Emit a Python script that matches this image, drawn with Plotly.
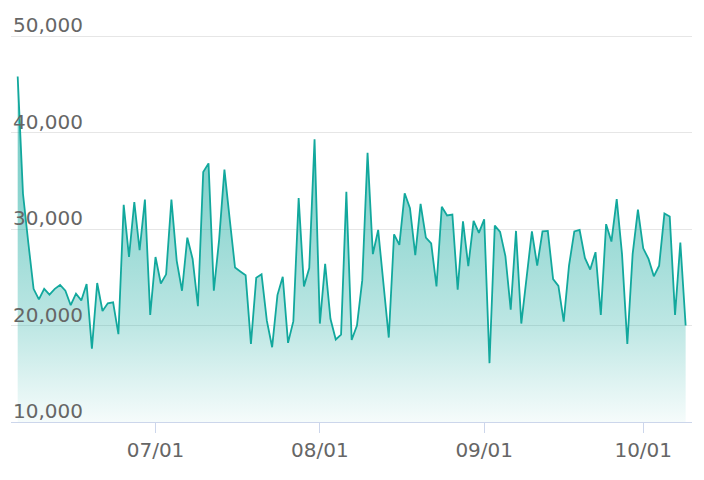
import pandas as pd
import plotly.graph_objects as go

start_date = "2023-06-05"
values = [
    45800, 33650, 28600, 23800, 22700, 23800, 23200, 23800, 24200, 23600,
    22100, 23300, 22600, 24300, 17600, 24400, 21500, 22300, 22400, 19100,
    32500, 27100, 32800, 27800, 33050, 21100, 27100, 24350, 25300, 33050,
    26700, 23600, 29100, 26900, 22000, 35900, 36800, 23600, 28900, 36150,
    31000, 26000, 25600, 25200, 18100, 24950, 25300, 20500, 17750, 23150,
    25050, 18200, 20450, 33200, 24050, 25950, 39300, 20200, 26400, 20700,
    18550, 19050, 33850, 18500, 20000, 24700, 37900, 27400, 29900, 24200,
    18750, 29450, 28350, 33700, 32150, 27300, 32600, 29100, 28500, 24050,
    32300, 31400, 31500, 23700, 30800, 26150, 30850, 29600, 31000, 16100,
    30350, 29700, 27200, 21650, 29800, 20200, 25100, 29750, 26200, 29750,
    29800, 24800, 24100, 20400, 26200, 29750, 29900, 27000, 25800, 27600,
    21100, 30500, 28700, 33100, 27400, 18100, 27400, 32000, 28000, 26900,
    25100, 26200, 31600, 31300, 21100, 28600, 20000,
]
dates = pd.date_range(start_date, periods=len(values), freq="D")
y_tickvals = [10000, 20000, 30000, 40000, 50000]
y_ticktext = [f"{v:,}" for v in y_tickvals]
x_tick0 = "2023-07-01"

line_color = "#12a89d"

fig = go.Figure()
fig.add_trace(go.Scatter(
    x=dates, y=values, mode="lines",
    line=dict(color=line_color, width=1.8),
    fill="tozeroy",
    fillgradient=dict(
        type="vertical",
        start=10000, stop=46000,
        colorscale=[
            [0.0, "rgba(18,168,157,0.04)"],
            [0.28, "rgba(18,168,157,0.28)"],
            [0.64, "rgba(18,168,157,0.48)"],
            [1.0, "rgba(18,168,157,0.62)"],
        ],
    ),
    hoverinfo="skip",
))

x0 = dates[0] - pd.Timedelta(days=1.26)
x1 = dates[0] + pd.Timedelta(days=127.2)
y_range = [10000, 52694]

# y-axis labels sit above their gridlines, left-aligned inside the plot
for v, t in zip(y_tickvals, y_ticktext):
    fig.add_annotation(
        xref="paper", yref="y", x=0, y=v,
        xanchor="left", yanchor="middle", yshift=11,
        text=t, showarrow=False,
        font=dict(family="DejaVu Sans", size=20, color="#666666"),
    )

fig.update_layout(
    width=704, height=480,
    margin=dict(l=11, r=12, t=10, b=58),
    paper_bgcolor="white", plot_bgcolor="white",
    showlegend=False,
    font=dict(family="DejaVu Sans", size=20, color="#666666"),
    xaxis=dict(
        range=[x0, x1],
        automargin=False,
        showgrid=False,
        showline=True, linecolor="#ccd6eb", linewidth=1,
        ticks="outside", ticklen=10, tickcolor="#ccd6eb", tickwidth=1,
        tick0=x_tick0, dtick="M1", tickformat="%m/%d",
        tickfont=dict(size=20, color="#666666"),
        zeroline=False,
    ),
    yaxis=dict(
        range=y_range,
        automargin=False,
        tickvals=y_tickvals,
        showticklabels=False,
        showgrid=True, gridcolor="#e6e6e6", gridwidth=1,
        ticks="", showline=False, zeroline=False,
    ),
)

fig.write_html(
    "out.html",
    config={"displayModeBar": False},
    post_script="document.body.style.margin='0px';document.body.style.overflow='hidden';",
)
